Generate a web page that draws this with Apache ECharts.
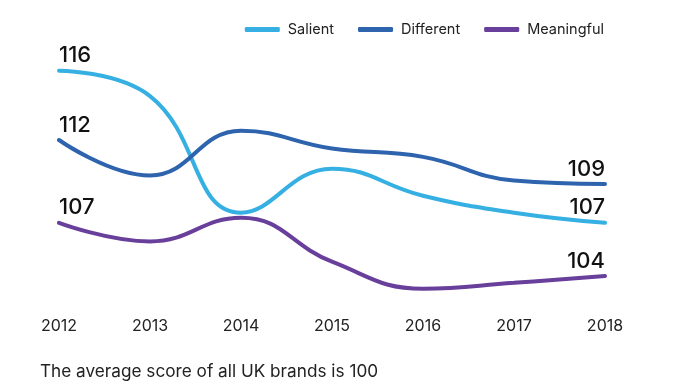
<!DOCTYPE html>
<html>
<head>
<meta charset="utf-8">
<script src="https://cdn.jsdelivr.net/npm/echarts@6/dist/echarts.min.js"></script>
<style>
html,body{margin:0;padding:0;background:#fff;}
#c{width:675px;height:385px;}
</style>
</head>
<body>
<div id="c"></div>
<script>
var years = ['2012','2013','2014','2015','2016','2017','2018'];
var salient = [116.0, 114.5, 107.6, 110.2, 108.6, 107.6, 107.0];
var different = [111.9, 109.8, 112.45, 111.4, 110.9, 109.5, 109.3];
var meaningful = [107.0, 105.9, 107.3, 104.7, 103.1, 103.45, 103.85];
var footnote = 'The average score of all UK brands is 100';

var FONT = 'Inter';
var colors = {Salient:'#36b0e2', Different:'#2e63ad', Meaningful:'#683f9a'};

function mkSeries(name, data){
  var n = data.length;
  var d = data.map(function(v, i){
    var item = {value: v};
    if (i === 0) item.label = {show: true, align: 'left'};
    else if (i === n - 1) item.label = {show: true, align: 'right'};
    return item;
  });
  return {
    name: name,
    type: 'line',
    data: d,
    smooth: 0.45,
    symbol: 'circle',
    symbolSize: 0,
    showSymbol: true,
    lineStyle: {width: 4, color: colors[name], cap: 'round'},
    itemStyle: {color: colors[name]},
    label: {
      show: false,
      position: 'top',
      distance: 4,
      fontFamily: FONT,
      fontSize: 22,
      fontWeight: 500,
      color: '#111',
      formatter: function(p){ return String(Math.round(p.value)); }
    },
    z: 2
  };
}

var chart = echarts.init(document.getElementById('c'), null, {renderer: 'canvas'});
chart.setOption({
  animation: false,
  backgroundColor: '#fff',
  grid: {left: 59, right: 70, top: 36.9, bottom: 77.7, containLabel: false},
  legend: {
    right: 66,
    top: 17,
    itemWidth: 35,
    itemHeight: 5,
    itemGap: 24,
    icon: 'roundRect',
    textStyle: {fontFamily: FONT, fontSize: 14.5, color: '#222', padding: [0,0,0,3]},
    data: ['Salient','Different','Meaningful']
  },
  xAxis: {
    type: 'category',
    data: years,
    boundaryGap: false,
    axisLine: {show: false},
    axisTick: {show: false},
    axisLabel: {fontFamily: FONT, fontSize: 16, color: '#222', margin: 11}
  },
  yAxis: {
    type: 'value',
    min: 102,
    max: 118,
    show: false,
    splitLine: {show: false}
  },
  graphic: [{
    type: 'text',
    left: 40,
    top: 363,
    style: {text: footnote, fontFamily: FONT, fontSize: 17.2, fill: '#222'}
  }],
  series: [
    mkSeries('Salient', salient),
    mkSeries('Different', different),
    mkSeries('Meaningful', meaningful)
  ]
});
</script>
</body>
</html>
